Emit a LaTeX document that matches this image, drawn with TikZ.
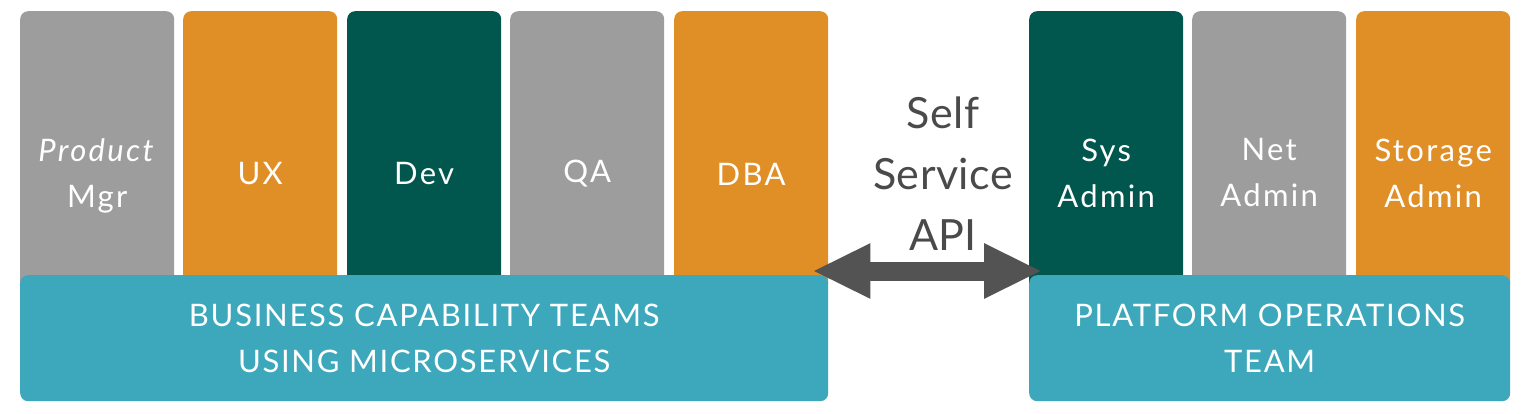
\documentclass[tikz,border=0pt]{standalone}
\usepackage{fontspec}
\setmainfont{Lato}
\newfontfamily\colfont[LetterSpace=7.5]{Lato}
\newfontfamily\bandfont[LetterSpace=5.5]{Lato}
\newfontfamily\apifont[LetterSpace=1]{Lato}
\usetikzlibrary{arrows.meta,calc}
\definecolor{cgray}{HTML}{9D9D9D}
\definecolor{corange}{HTML}{E08F27}
\definecolor{cgreen}{HTML}{01574E}
\definecolor{cteal}{HTML}{3DA7BC}
\definecolor{carrow}{HTML}{535353}
\definecolor{ctext}{HTML}{4A4A4A}
\begin{document}
\begin{tikzpicture}[x=1pt,y=-1pt,
  column/.style={rounded corners=8pt, minimum width=154pt, minimum height=280pt, anchor=north west, inner sep=0pt},
  coltext/.style={text=white, align=center, inner sep=0pt, font=\colfont\fontsize{31}{46}\selectfont},
  band/.style={fill=cteal, rounded corners=8pt, minimum height=126pt, anchor=north west, inner sep=0pt, text=white, align=center, font=\bandfont\fontsize{31}{45.5}\selectfont},
  api/.style={text=ctext, align=center, inner sep=0pt, font=\apifont\fontsize{43}{61}\selectfont},
  apiarrow/.style={draw=carrow, line width=19pt, {Triangle[length=58pt,width=51pt]}-{Triangle[length=58pt,width=51pt]}}]
\useasboundingbox (0,0) rectangle (1528,414);
% left columns
\node[column, fill=cgray]   (pm)  at (20,11)  {};
\node[column, fill=corange] (ux)  at (183,11) {};
\node[column, fill=cgreen]  (dev) at (347,11) {};
\node[column, fill=cgray]   (qa)  at (510,11) {};
\node[column, fill=corange] (dba) at (674,11) {};
% right columns
\node[column, fill=cgreen]  (sys) at (1029,11) {};
\node[column, fill=cgray]   (net) at (1192,11) {};
\node[column, fill=corange] (sto) at (1356,11) {};
% column texts
\node[coltext] (pmT)  at ($(pm.north)+(0,165)$)  {\textit{Product}\\Mgr};
\node[coltext] (uxT)  at ($(ux.north)+(0,163)$)  {UX};
\node[coltext] (devT) at ($(dev.north)+(0,163)$) {Dev};
\node[coltext] (qaT)  at ($(qa.north)+(0,163)$)  {QA};
\node[coltext] (dbaT) at ($(dba.north)+(0,163)$) {DBA};
\node[coltext] (sysT) at ($(sys.north)+(0,162)$) {Sys\\Admin};
\node[coltext] (netT) at ($(net.north)+(0,162)$) {Net\\Admin};
\node[coltext] (stoT) at ($(sto.north)+(0,162)$) {Storage\\Admin};
% bands
\node[band, minimum width=808pt] (bus)  at (20,275)   {BUSINESS CAPABILITY TEAMS\\USING MICROSERVICES};
\node[band, minimum width=481pt] (plat) at (1029,275) {PLATFORM OPERATIONS\\TEAM};
% API
\node[api] (apiT) at (943,174) {Self\\Service\\API};
\coordinate (aL) at ($(bus.north east)+(-16,-4)$);
\coordinate (aR) at ($(plat.north west)+(13,-4)$);
\draw[apiarrow] (aL) -- (aR);
\end{tikzpicture}
\end{document}
